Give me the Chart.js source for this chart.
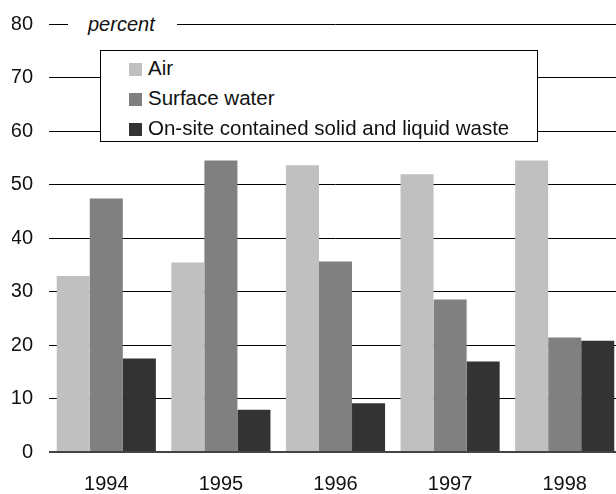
<!DOCTYPE html>
<html>
<head>
<meta charset="utf-8">
<script src="https://cdn.jsdelivr.net/npm/chart.js@4.4.1/dist/chart.umd.min.js"></script>
<style>
  html, body { margin: 0; padding: 0; background: #fff; overflow: hidden; }
  #wrap { position: relative; width: 624px; height: 494px; }
  #unit {
    position: absolute; left: 68px; top: 12px; padding: 0 22px 0 20px;
    background: #fff; font: italic 20px "Liberation Sans", Arial, sans-serif;
    line-height: 24px; color: #111;
  }
  #legend {
    position: absolute; left: 100px; top: 50px; width: 436px; height: 90px;
    background: #fff; border: 1.5px solid #000;
    font: 20.5px "Liberation Sans", Arial, sans-serif; color: #111;
  }
  #legend div { position: absolute; left: 28px; height: 30px; line-height: 30px; white-space: nowrap; }
  #legend span { display: inline-block; width: 13px; height: 13px; margin-right: 6px; vertical-align: -1px; }
</style>
</head>
<body>
<div id="wrap">
  <canvas id="chart"></canvas>
  <div id="unit">percent</div>
  <div id="legend"></div>
</div>
<script>
const years = ['1994', '1995', '1996', '1997', '1998'];
const airValues = [32.9, 35.4, 53.6, 51.9, 54.5];
const surfaceWaterValues = [47.4, 54.5, 35.6, 28.5, 21.4];
const onSiteValues = [17.5, 7.9, 9.1, 16.9, 20.8];
const seriesNames = ['Air', 'Surface water', 'On-site contained solid and liquid waste'];
const seriesColors = ['#c0c0c0', '#808080', '#333333'];
const yTicks = [0, 10, 20, 30, 40, 50, 60, 70, 80];

const tickFont = { family: '"Liberation Sans", Arial, sans-serif', size: 20 };

const data = {
  labels: years,
  datasets: [airValues, surfaceWaterValues, onSiteValues].map((values, i) => ({
    label: seriesNames[i],
    data: values,
    backgroundColor: seriesColors[i],
    borderWidth: 0,
    categoryPercentage: 0.865,
    barPercentage: 1.0
  }))
};

const config = {
  type: 'bar',
  data: data,
  options: {
    responsive: true,
    maintainAspectRatio: false,
    animation: false,
    layout: { padding: { left: 12, right: 2, top: 0, bottom: 0 } },
    plugins: {
      legend: { display: false },
      tooltip: { enabled: false }
    },
    scales: {
      x: {
        grid: { display: false },
        border: { display: false },
        ticks: { color: '#111', font: tickFont, padding: 12 },
        afterFit: (axis) => { axis.height = 42; }
      },
      y: {
        min: 0,
        max: 80,
        afterBuildTicks: (axis) => { axis.ticks = yTicks.map(v => ({ value: v })); },
        border: { display: false },
        grid: {
          drawTicks: false,
          color: (ctx) => ctx.tick && ctx.tick.value === 0 ? '#444' : '#000',
          lineWidth: (ctx) => ctx.tick && ctx.tick.value === 0 ? 2 : 1
        },
        ticks: { color: '#111', font: tickFont, padding: 16 },
        afterFit: (axis) => {
          axis.width = 37;
          axis.paddingTop = 24;
        }
      }
    }
  }
};

const barChart = new Chart(document.getElementById('chart'), config);

// legend box drawn over the grid, built from the datasets
const legendBox = document.getElementById('legend');
data.datasets.forEach((ds, i) => {
  const row = document.createElement('div');
  row.style.top = (2 + i * 30) + 'px';
  row.innerHTML = `<span style="background:${ds.backgroundColor}"></span>${ds.label}`;
  legendBox.appendChild(row);
});
</script>
</body>
</html>
